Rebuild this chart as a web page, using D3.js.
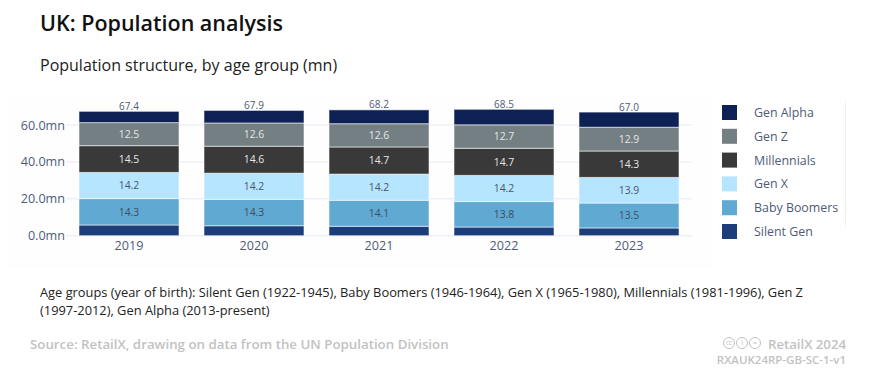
<!DOCTYPE html>
<html>
<head>
<meta charset="utf-8">
<script src="https://cdn.jsdelivr.net/npm/d3@7"></script>
<style>
  html, body { margin: 0; padding: 0; background: #fff; }
  text { font-family: "Open Sans", sans-serif; }
</style>
</head>
<body>
<div id="chart"></div>
<script>
const years = ['2019', '2020', '2021', '2022', '2023'];
const totals = ['67.4', '67.9', '68.2', '68.5', '67.0'];
const yTicks = [0, 20, 40, 60];

// bottom to top
const groups = ['Silent Gen', 'Baby Boomers', 'Gen X', 'Millennials', 'Gen Z', 'Gen Alpha'];
const silentGen = [5.8, 5.4, 5.1, 4.7, 4.2];
const babyBoomers = [14.3, 14.3, 14.1, 13.8, 13.5];
const genX = [14.2, 14.2, 14.2, 14.2, 13.9];
const millennials = [14.5, 14.6, 14.7, 14.7, 14.3];
const genZ = [12.5, 12.6, 12.6, 12.7, 12.9];
const genAlpha = [6.1, 6.8, 7.5, 8.4, 8.2];
const seriesValues = [silentGen, babyBoomers, genX, millennials, genZ, genAlpha];

const colors = ['#1b3d7a', '#60a9d3', '#b6e5ff', '#393939', '#747f84', '#0e2154'];
const labelColors = [null, '#3f4d5c', '#4a5666', '#e6e6e6', '#e6e6e6', null];
const legendOrder = ['Gen Alpha', 'Gen Z', 'Millennials', 'Gen X', 'Baby Boomers', 'Silent Gen'];

const width = 872, height = 374;
const svg = d3.select('#chart').append('svg')
  .attr('width', width)
  .attr('height', height);

const x = d3.scaleBand().domain(years).range([66.5, 691.5]).paddingInner(0.2).paddingOuter(0.1);
const y = d3.scaleLinear().domain([0, 60]).range([235.7, 125]);

// faint panel behind the chart
svg.append('rect')
  .attr('x', 8).attr('y', 96).attr('width', 704).attr('height', 172)
  .attr('fill', '#fefefe');

// Titles
svg.append('text').attr('x', 40).attr('y', 31)
  .attr('font-size', 21.5).attr('font-weight', 600).attr('fill', '#111')
  .text('UK: Population analysis');
svg.append('text').attr('x', 40).attr('y', 71)
  .attr('font-size', 16).attr('fill', '#222')
  .text('Population structure, by age group (mn)');

// Gridlines
svg.append('g').selectAll('line').data(yTicks).enter().append('line')
  .attr('x1', 66.5).attr('x2', 691.5)
  .attr('y1', d => y(d)).attr('y2', d => y(d))
  .attr('stroke', '#eef0f9').attr('stroke-width', 1.5);

// Y labels
svg.append('g').selectAll('text').data(yTicks).enter().append('text')
  .attr('x', 65).attr('y', d => y(d))
  .attr('dy', '.36em')
  .attr('text-anchor', 'end')
  .attr('font-size', 12.6).attr('fill', '#4f5b78')
  .text(d => d.toFixed(1) + 'mn');

// X labels
svg.append('g').selectAll('text').data(years).enter().append('text')
  .attr('x', d => x(d) + x.bandwidth() / 2).attr('y', 250)
  .attr('text-anchor', 'middle')
  .attr('font-size', 12.6).attr('fill', '#4f5b78')
  .text(d => d);

// Stacks
const rows = years.map((yr, i) => {
  const row = { year: yr };
  groups.forEach((g, j) => { row[g] = seriesValues[j][i]; });
  return row;
});
const stacked = d3.stack().keys(groups)(rows);

const layer = svg.append('g').selectAll('g').data(stacked).enter().append('g');

layer.selectAll('rect').data(d => d).enter().append('rect')
  .attr('x', d => x(d.data.year))
  .attr('width', x.bandwidth())
  .attr('y', function(d) { return y(d[1]); })
  .attr('height', d => y(d[0]) - y(d[1]))
  .attr('fill', function() { return colors[groups.indexOf(d3.select(this.parentNode).datum().key)]; })
  .attr('stroke', 'rgba(255,255,255,0.55)')
  .attr('stroke-width', 1);

// Value labels inside the middle segments
layer.filter((d, i) => labelColors[i] !== null).selectAll('text').data(d => d).enter().append('text')
  .attr('x', d => x(d.data.year) + x.bandwidth() / 2)
  .attr('y', d => (y(d[0]) + y(d[1])) / 2)
  .attr('dy', '.36em')
  .attr('text-anchor', 'middle')
  .attr('font-size', 10.4)
  .attr('fill', function() { return labelColors[groups.indexOf(d3.select(this.parentNode).datum().key)]; })
  .text(d => (d[1] - d[0]).toFixed(1));

// Totals on top
svg.append('g').selectAll('text').data(years).enter().append('text')
  .attr('x', d => x(d) + x.bandwidth() / 2)
  .attr('y', (d, i) => y(+totals[i]) - 1.5)
  .attr('text-anchor', 'middle')
  .attr('font-size', 10).attr('fill', '#4f5b78')
  .text((d, i) => totals[i]);

// Legend
const legendY = d3.scalePoint().domain(legendOrder).range([112.5, 231.5]);
const legend = svg.append('g').selectAll('g').data(legendOrder).enter().append('g')
  .attr('transform', d => `translate(722,${legendY(d)})`);
legend.append('rect')
  .attr('x', 0).attr('y', -7.5).attr('width', 15).attr('height', 15)
  .attr('fill', d => colors[groups.indexOf(d)]);
legend.append('text')
  .attr('x', 32).attr('dy', '.36em')
  .attr('font-size', 12.4).attr('fill', '#4f5b78')
  .text(d => d);
svg.append('line')
  .attr('x1', 845.5).attr('x2', 845.5).attr('y1', 102).attr('y2', 226)
  .attr('stroke', '#f0f1f6');

// Footnote
svg.append('text').attr('x', 40).attr('y', 297)
  .attr('font-size', 12.85).attr('fill', '#222')
  .text('Age groups (year of birth): Silent Gen (1922-1945), Baby Boomers (1946-1964), Gen X (1965-1980), Millennials (1981-1996), Gen Z');
svg.append('text').attr('x', 40).attr('y', 315)
  .attr('font-size', 12.85).attr('fill', '#222')
  .text('(1997-2012), Gen Alpha (2013-present)');

// Source
svg.append('text').attr('x', 30).attr('y', 349)
  .attr('font-size', 13.3).attr('font-weight', 600).attr('fill', '#c2c2c2')
  .text('Source: RetailX, drawing on data from the UN Population Division');

// Licence icons
const cc = svg.append('g').selectAll('g').data(['cc', 'i', '=']).enter().append('g')
  .attr('transform', (d, i) => `translate(${729 + i * 13},343)`);
cc.append('circle').attr('r', 5.5).attr('fill', 'none').attr('stroke', '#c2c2c2').attr('stroke-width', 1);
cc.append('text').attr('text-anchor', 'middle').attr('dy', '.33em')
  .attr('font-size', 6.5).attr('fill', '#c2c2c2').text(d => d);

svg.append('text').attr('x', 846).attr('y', 349)
  .attr('text-anchor', 'end')
  .attr('font-size', 13.2).attr('font-weight', 600).attr('fill', '#c2c2c2')
  .text('RetailX 2024');
svg.append('text').attr('x', 846).attr('y', 364)
  .attr('text-anchor', 'end')
  .attr('font-size', 11.5).attr('font-weight', 600).attr('fill', '#c2c2c2')
  .text('RXAUK24RP-GB-SC-1-v1');
</script>
</body>
</html>
